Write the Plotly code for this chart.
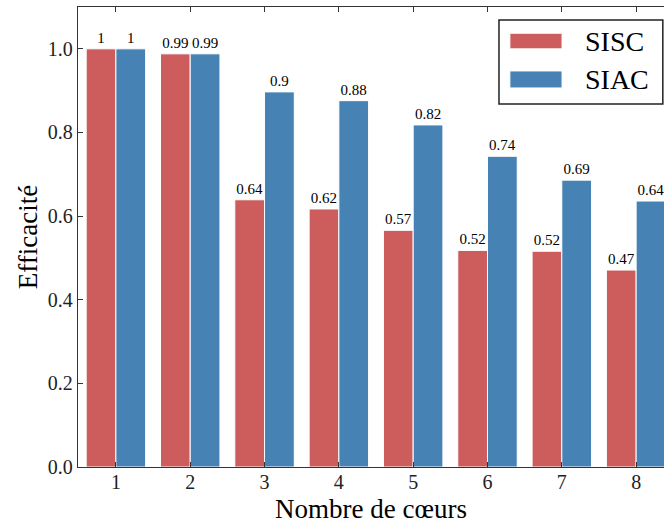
import plotly.graph_objects as go

cores = [1, 2, 3, 4, 5, 6, 7, 8]
sisc = [1.0, 0.988, 0.639, 0.617, 0.566, 0.518, 0.516, 0.471]
siac = [1.0, 0.988, 0.897, 0.876, 0.818, 0.743, 0.686, 0.636]
series_names = ["SISC", "SIAC"]
colors = ["#CD5C5C", "#4682B4"]
yticks = [0.0, 0.2, 0.4, 0.6, 0.8, 1.0]

FONT = "Liberation Serif"

def lab(vals):
    return [f"{v:.2g}" for v in vals]

fig = go.Figure()
for name, vals, col in zip(series_names, [sisc, siac], colors):
    fig.add_trace(go.Bar(
        x=cores, y=vals, name=name,
        marker=dict(color=col, line=dict(color="white", width=1)),
        text=lab(vals), textposition="outside", cliponaxis=False,
        textfont=dict(family=FONT, size=15, color="black"),
        showlegend=False,
    ))

axis_common = dict(
    showline=True, linecolor="#333333", linewidth=1.3,
    ticks="inside", ticklen=5, tickcolor="#333333", tickwidth=1.2,
    showgrid=False, zeroline=False,
    tickfont=dict(family=FONT, size=20, color="#222222"),
)

fig.update_layout(
    width=664, height=525,
    margin=dict(l=78, r=0, t=7, b=58),
    paper_bgcolor="white", plot_bgcolor="white",
    barmode="group", bargap=0.2, bargroupgap=0.0,
    xaxis=dict(**axis_common, range=[0.49, 8.375], tickvals=cores,
               ticktext=[str(c) for c in cores], mirror="ticks",
               ticklabelstandoff=-3,
               title=dict(text="Nombre de cœurs", font=dict(family=FONT, size=27, color="black"), standoff=6)),
    yaxis=dict(**axis_common, range=[0, 1.1], tickvals=yticks,
               ticktext=[f"{t:.1f}" for t in yticks],
               title=dict(text="Efficacité", font=dict(family=FONT, size=27, color="black"), standoff=2)),
)

# legend drawn as shapes + text
fig.add_shape(type="rect", xref="paper", yref="paper", x0=0.7184, x1=0.998, y0=0.789, y1=0.972,
              line=dict(color="#222222", width=1.5), fillcolor="white", layer="above")
leg_y = [(0.909, 0.943), (0.824, 0.861)]
for (y0, y1), name, col in zip(leg_y, series_names, colors):
    fig.add_shape(type="rect", xref="paper", yref="paper", x0=0.737, x1=0.826, y0=y0, y1=y1,
                  line=dict(color="white", width=1), fillcolor=col, layer="above")
    fig.add_annotation(xref="paper", yref="paper", x=0.862, y=(y0 + y1) / 2, text=name,
                       showarrow=False, xanchor="left", yanchor="middle",
                       font=dict(family=FONT, size=28, color="black"))

fig.write_html("out.html", config={"displayModeBar": False},
               post_script="document.body.style.margin='0';document.body.style.overflow='hidden';")
